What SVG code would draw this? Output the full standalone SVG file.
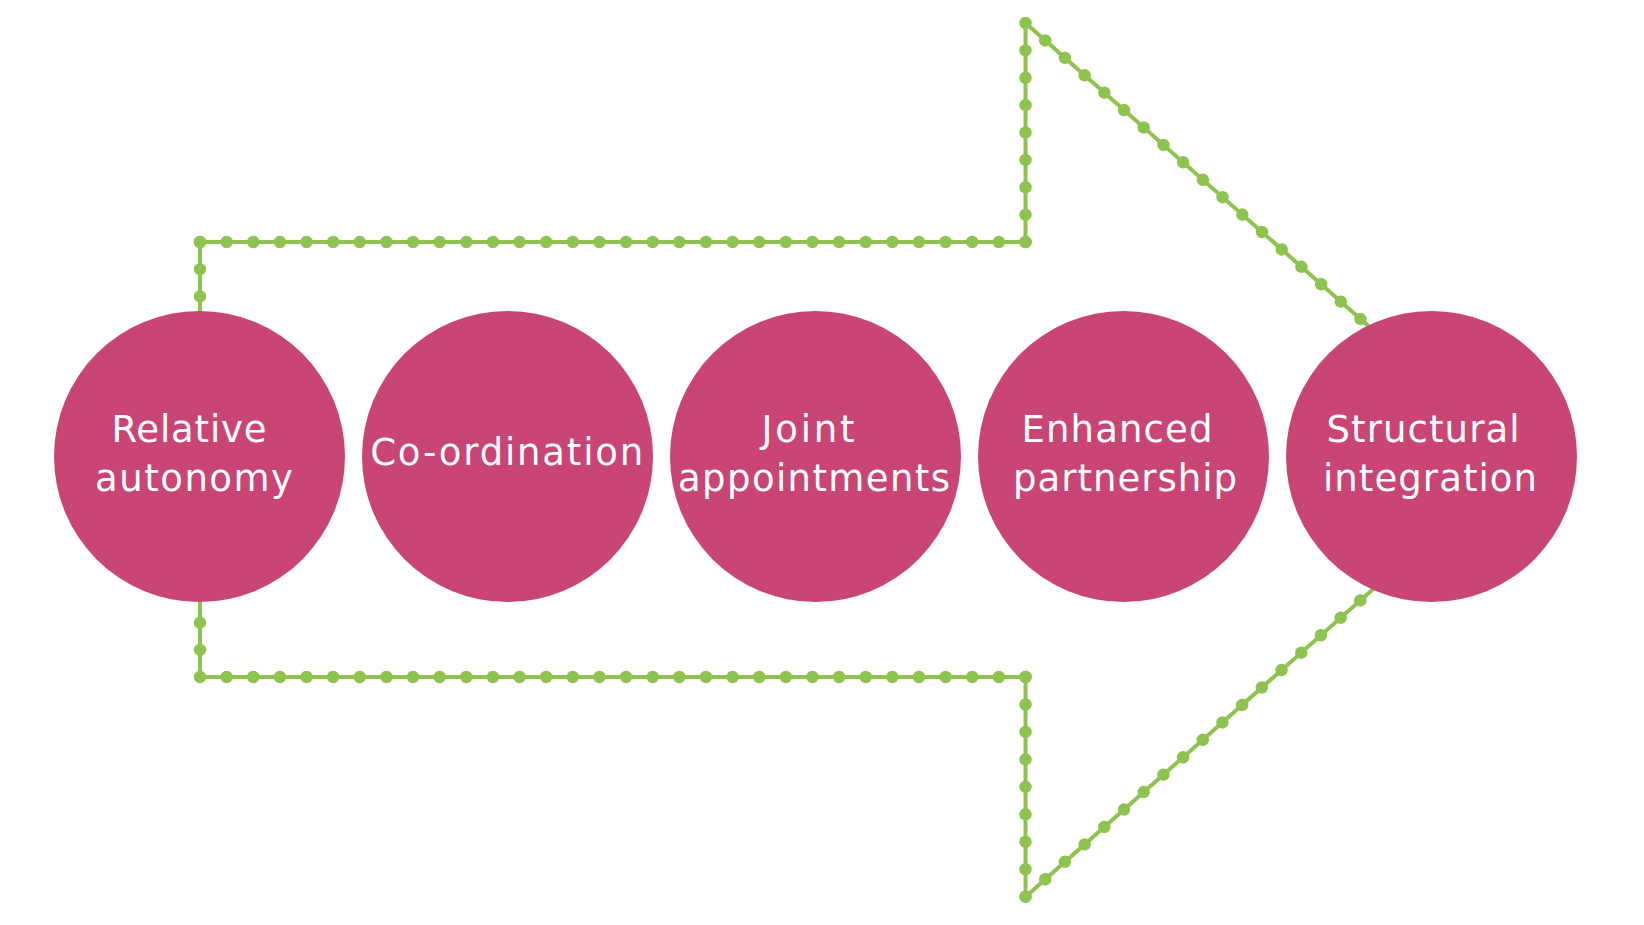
<svg xmlns="http://www.w3.org/2000/svg" width="1644" height="925" viewBox="0 0 1644 925">
<style>
.line{fill:none;stroke:#8fc34f;stroke-width:4;stroke-linejoin:miter}
.dots{fill:none;stroke:#8fc34f;stroke-width:12.5;stroke-linecap:round}
.node{fill:#c94575}
.lbl{font-family:"DejaVu Sans","Liberation Sans",sans-serif;font-size:37px;fill:#ffffff;text-anchor:middle}
</style>
<rect width="1644" height="925" fill="#ffffff"/>
<g id="connectors">
<path class="line" d="M1519.5,459.5 L1025.5,23 V242 H200 V677 H1025.5 V896.7 Z"/>
<path class="dots" d="M200,242 H1025.5" stroke-dasharray="0 26.629"/>
<path class="dots" d="M1025.5,242 V23" stroke-dasharray="0 27.375"/>
<path class="dots" d="M1025.5,23 L1519.5,459.5" stroke-dasharray="0 26.3"/>
<path class="dots" d="M200,242 V677" stroke-dasharray="0 27.1875"/>
<path class="dots" d="M200,677 H1025.5" stroke-dasharray="0 26.629"/>
<path class="dots" d="M1025.5,677 V896.7" stroke-dasharray="0 27.4625"/>
<path class="dots" d="M1025.5,896.7 L1519.5,459.5" stroke-dasharray="0 26.3"/>
</g>
<g id="node-relative-autonomy">
<circle class="node" cx="199.5" cy="456.5" r="145.5"/>
<text class="lbl" x="189" y="442" textLength="155" lengthAdjust="spacing">Relative</text>
<text class="lbl" x="194" y="491" textLength="198" lengthAdjust="spacing">autonomy</text>
</g>
<g id="node-co-ordination">
<circle class="node" cx="507.5" cy="456.5" r="145.5"/>
<text class="lbl" x="506.7" y="465" textLength="273" lengthAdjust="spacing">Co-ordination</text>
</g>
<g id="node-joint-appointments">
<circle class="node" cx="815.5" cy="456.5" r="145.5"/>
<text class="lbl" x="808" y="442" textLength="93" lengthAdjust="spacing">Joint</text>
<text class="lbl" x="814" y="491" textLength="272" lengthAdjust="spacing">appointments</text>
</g>
<g id="node-enhanced-partnership">
<circle class="node" cx="1123.5" cy="456.5" r="145.5"/>
<text class="lbl" x="1117" y="442" textLength="191" lengthAdjust="spacing">Enhanced</text>
<text class="lbl" x="1125" y="491" textLength="224" lengthAdjust="spacing">partnership</text>
</g>
<g id="node-structural-integration">
<circle class="node" cx="1431.5" cy="456.5" r="145.5"/>
<text class="lbl" x="1423" y="442" textLength="193" lengthAdjust="spacing">Structural</text>
<text class="lbl" x="1430" y="491" textLength="214" lengthAdjust="spacing">integration</text>
</g>
</svg>
